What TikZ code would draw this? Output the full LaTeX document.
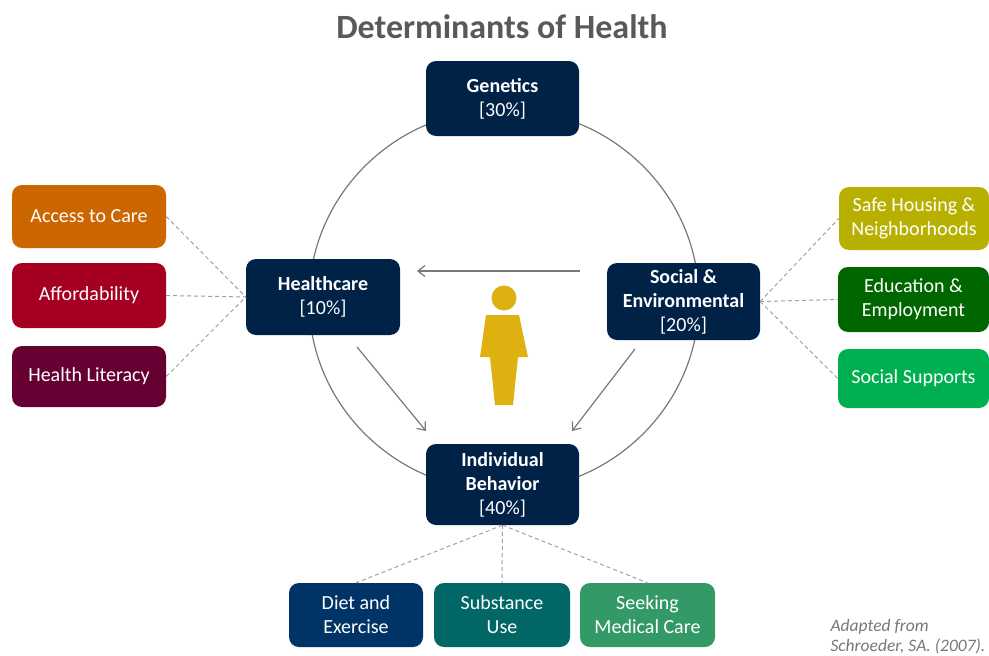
\documentclass[tikz,border=0pt]{standalone}
\usepackage{fontspec}
\setmainfont{Carlito}
\usetikzlibrary{arrows.meta}
\definecolor{navy}{RGB}{0,34,71}
\definecolor{cAccess}{RGB}{204,102,0}
\definecolor{cAfford}{RGB}{165,0,33}
\definecolor{cLit}{RGB}{102,0,51}
\definecolor{cSafe}{RGB}{184,176,0}
\definecolor{cEdu}{RGB}{0,102,0}
\definecolor{cSup}{RGB}{0,176,80}
\definecolor{cDiet}{RGB}{0,51,102}
\definecolor{cSub}{RGB}{0,102,102}
\definecolor{cSeek}{RGB}{51,153,102}
\definecolor{cPerson}{RGB}{223,177,16}
\definecolor{cTitle}{RGB}{89,89,89}
\definecolor{cLine}{RGB}{120,120,120}
\definecolor{cDash}{RGB}{160,160,160}
\tikzset{
  box/.style={rounded corners=10pt, text=white, align=center, inner sep=0pt,
    font=\fontsize{20}{24}\selectfont},
  mainbox/.style={box, fill=navy},
  dashline/.style={draw=cDash, line width=1pt, dash pattern=on 4pt off 3pt},
  arr/.style={draw=cLine, line width=1.2pt, -{Straight Barb[length=7pt,width=11pt]}},
}
\begin{document}
\begin{tikzpicture}[x=1pt,y=-1pt]
\useasboundingbox (0,0) rectangle (989,656);
% title
\node[text=cTitle, font=\fontsize{34}{40}\selectfont\bfseries] (title) at (502,27) {Determinants of Health};
% circle
\draw[cLine, line width=1.2pt] (504,300) ellipse [x radius=195, y radius=191];
% main boxes
\node[mainbox, minimum width=153pt, minimum height=75pt] (gen) at (502.5,98.5) {\textbf{Genetics}\\{[30\%]}};
\node[mainbox, minimum width=154pt, minimum height=76pt] (hc) at (323,297) {\textbf{Healthcare}\\{[10\%]}};
\node[mainbox, minimum width=153pt, minimum height=77pt] (soc) at (683.5,301.5) {\textbf{Social \&}\\\textbf{Environmental}\\{[20\%]}};
\node[mainbox, minimum width=153pt, minimum height=81pt] (ind) at (502.5,484.5) {\textbf{Individual}\\\textbf{Behavior}\\{[40\%]}};
% left boxes
\node[box, fill=cAccess, minimum width=154pt, minimum height=63pt] (acc) at (89,216.5) {Access to Care};
\node[box, fill=cAfford, minimum width=154pt, minimum height=65pt] (aff) at (89,295.5) {Affordability};
\node[box, fill=cLit, minimum width=154pt, minimum height=61pt] (lit) at (89,376.5) {Health Literacy};
% right boxes
\node[box, fill=cSafe, minimum width=150pt, minimum height=63pt] (safe) at (914,218.5) {Safe Housing \&\\Neighborhoods};
\node[box, fill=cEdu, minimum width=151pt, minimum height=65pt] (edu) at (913.5,299.5) {Education \&\\Employment};
\node[box, fill=cSup, minimum width=151pt, minimum height=59pt] (sup) at (913.5,378.5) {Social Supports};
% bottom boxes
\node[box, fill=cDiet, minimum width=134pt, minimum height=64pt] (diet) at (356,615) {Diet and\\Exercise};
\node[box, fill=cSub, minimum width=136pt, minimum height=64pt] (sub) at (502,615) {Substance\\Use};
\node[box, fill=cSeek, minimum width=135pt, minimum height=64pt] (seek) at (647.5,615) {Seeking\\Medical Care};
% dashed connectors
\draw[dashline] (acc.east) -- (hc.west);
\draw[dashline] (aff.east) -- (hc.west);
\draw[dashline] (lit.east) -- (hc.west);
\draw[dashline] (soc.east) -- (safe.west);
\draw[dashline] (soc.east) -- (edu.west);
\draw[dashline] (soc.east) -- (sup.west);
\draw[dashline] (ind.south) -- (diet.north);
\draw[dashline] (ind.south) -- (sub.north);
\draw[dashline] (ind.south) -- (seek.north);
% arrows
\coordinate (a1s) at (580,271);
\coordinate (a1e) at (417,271);
\coordinate (a2s) at (357,347);
\coordinate (a2e) at (426,431);
\coordinate (a3s) at (635,349);
\coordinate (a3e) at (572,431);
\draw[arr] (a1s) -- (a1e);
\draw[arr] (a2s) -- (a2e);
\draw[arr] (a3s) -- (a3e);
% person
\fill[cPerson] (504,298) circle (12.5);
\fill[cPerson] (486,315) -- (519,315) -- (528,357) -- (518,357) -- (513,405) -- (495,405) -- (490,357) -- (480,357) -- cycle;
% footnote
\node[text=cLine, font=\fontsize{17.5}{20}\selectfont\itshape, align=left, anchor=west] (note) at (827,637) {Adapted from\\Schroeder, SA. (2007).};
\end{tikzpicture}
\end{document}
